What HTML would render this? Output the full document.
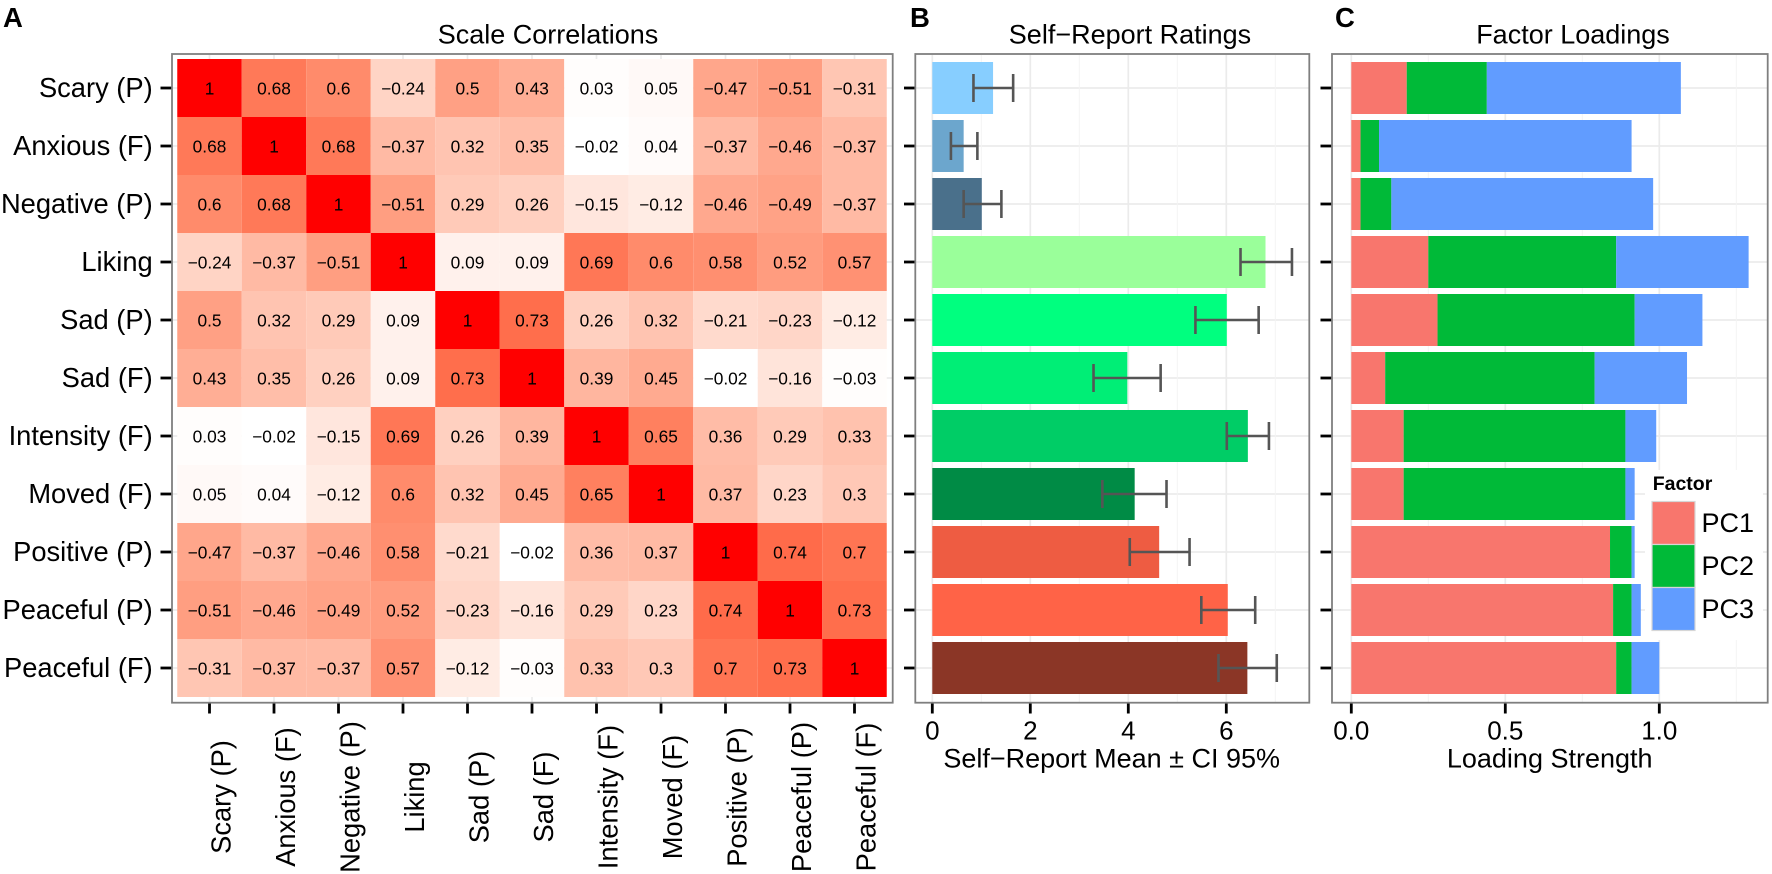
<!DOCTYPE html>
<html lang="en">
<head>
<meta charset="utf-8">
<title>Scale Correlations, Self-Report Ratings and Factor Loadings</title>
<style>
html,body{margin:0;padding:0;background:#fff;width:1772px;height:874px;overflow:hidden}
svg{display:block}
text{font-family:"Liberation Sans",Arial,sans-serif;fill:#000}
</style>
</head>
<body>
<svg id="fig" xmlns="http://www.w3.org/2000/svg" width="1772" height="874" viewBox="0 0 1772 874"></svg>
<script>
const scaleLabels = ["Scary (P)","Anxious (F)","Negative (P)","Liking","Sad (P)","Sad (F)","Intensity (F)","Moved (F)","Positive (P)","Peaceful (P)","Peaceful (F)"];
const corrScary = [1,0.68,0.6,-0.24,0.5,0.43,0.03,0.05,-0.47,-0.51,-0.31];
const corrAnxious = [0.68,1,0.68,-0.37,0.32,0.35,-0.02,0.04,-0.37,-0.46,-0.37];
const corrNegative = [0.6,0.68,1,-0.51,0.29,0.26,-0.15,-0.12,-0.46,-0.49,-0.37];
const corrLiking = [-0.24,-0.37,-0.51,1,0.09,0.09,0.69,0.6,0.58,0.52,0.57];
const corrSadP = [0.5,0.32,0.29,0.09,1,0.73,0.26,0.32,-0.21,-0.23,-0.12];
const corrSadF = [0.43,0.35,0.26,0.09,0.73,1,0.39,0.45,-0.02,-0.16,-0.03];
const corrIntensity = [0.03,-0.02,-0.15,0.69,0.26,0.39,1,0.65,0.36,0.29,0.33];
const corrMoved = [0.05,0.04,-0.12,0.6,0.32,0.45,0.65,1,0.37,0.23,0.3];
const corrPositive = [-0.47,-0.37,-0.46,0.58,-0.21,-0.02,0.36,0.37,1,0.74,0.7];
const corrPeacefulP = [-0.51,-0.46,-0.49,0.52,-0.23,-0.16,0.29,0.23,0.74,1,0.73];
const corrPeacefulF = [-0.31,-0.37,-0.37,0.57,-0.12,-0.03,0.33,0.3,0.7,0.73,1];
const corrMatrix = [corrScary,corrAnxious,corrNegative,corrLiking,corrSadP,corrSadF,corrIntensity,corrMoved,corrPositive,corrPeacefulP,corrPeacefulF];

const ratingMeans = [1.24,0.64,1.01,6.80,6.01,3.98,6.44,4.13,4.63,6.03,6.43];
const ratingLow = [0.84,0.38,0.64,6.29,5.37,3.29,6.01,3.47,4.03,5.49,5.84];
const ratingHigh = [1.65,0.92,1.41,7.34,6.66,4.66,6.87,4.78,5.25,6.59,7.03];
const ratingColors = ["#87CEFF","#6CA6CD","#4A708B","#9AFF9A","#00FF7F","#00EE76","#00CD66","#008B45","#EE5C42","#FF6347","#8B3626"];
const ratingTicks = [0,2,4,6];
const ratingMinorTicks = [1,3,5,7];

const loadingPC1 = [0.18,0.03,0.03,0.25,0.28,0.11,0.17,0.17,0.84,0.85,0.86];
const loadingPC2 = [0.26,0.06,0.10,0.61,0.64,0.68,0.72,0.72,0.07,0.06,0.05];
const loadingPC3 = [0.63,0.82,0.85,0.43,0.22,0.30,0.10,0.03,0.01,0.03,0.09];
const factorNames = ["PC1","PC2","PC3"];
const factorColors = ["#F8766D","#00BA38","#619CFF"];
const loadingTicks = [0,0.5,1];
const loadingTickLabels = ["0.0","0.5","1.0"];
const loadingMinorTicks = [0.25,0.75,1.25];

const svg = document.getElementById('fig');
const NS = 'http://www.w3.org/2000/svg';
function make(tag, attrs, txt) {
  const el = document.createElementNS(NS, tag);
  for (const k in attrs) el.setAttribute(k, attrs[k]);
  if (txt !== undefined) el.textContent = txt;
  svg.appendChild(el);
  return el;
}
function line(x1, y1, x2, y2, stroke, w) {
  const el = make('line', {x1, y1, x2, y2, stroke, 'stroke-width': w});
  
  return el;
}
function label(x, y, str, size, anchor, weight) {
  const el = make('text', {x, y, 'font-size': size, 'text-anchor': anchor || 'middle', 'font-weight': weight || 'normal'}, str);
  
  return el;
}

/* shared axis functions */
const rowY = i => 88 + 58 * i;
const colX = j => 209.5 + 64.5 * j;
const ratingX = v => 932.3 + 49 * v;
const loadingX = v => 1351.3 + 308 * v;

/* heat colour: white to red through Lab space, limits taken from the data range */
function heatColor(r) {
  const t = Math.max(0, (Math.abs(r) - 0.02) / 0.98);
  const L = 100 + (53.24 - 100) * t, a = 80.09 * t, b = 67.2 * t;
  const fy = (L + 16) / 116, fx = fy + a / 500, fz = fy - b / 200;
  const inv = f => (f > 0.2069 ? f * f * f : (f - 16 / 116) / 7.787);
  const X = 0.95047 * inv(fx), Y = inv(fy), Z = 1.08883 * inv(fz);
  const gam = c => {
    c = Math.max(0, Math.min(1, c));
    return Math.round(255 * (c <= 0.0031308 ? 12.92 * c : 1.055 * Math.pow(c, 1 / 2.4) - 0.055));
  };
  return 'rgb(' + gam(3.2406 * X - 1.5372 * Y - 0.4986 * Z) + ',' + gam(-0.9689 * X + 1.8758 * Y + 0.0415 * Z) + ',' + gam(0.0557 * X - 0.204 * Y + 1.057 * Z) + ')';
}

function panelBorder(x, y, w, h) {
  const el = make('rect', {x, y, width: w, height: h, fill: 'none', stroke: '#7f7f7f', 'stroke-width': 1.8});
  
  
}
function rowTicks(x, left, right) {
  scaleLabels.forEach((s, i) => {
    const g = line(left, rowY(i), right, rowY(i), '#ebebeb', 1.7);
    
    const t = line(x, rowY(i), x + 11.5, rowY(i), '#000', 2.8);
    
  });
}
function verticalGrid(scale, majors, minors) {
  minors.forEach(v => {
    const g = line(scale(v), 55, scale(v), 702, '#f4f4f4', 1);
    
  });
  majors.forEach(v => {
    const g = line(scale(v), 55, scale(v), 702, '#ebebeb', 1.7);
    
  });
}

/* Panel letters and titles */
const letters = [["A",3],["B",910],["C",1335]];
letters.forEach(p => {
  const el = label(p[1], 27, p[0], 27.5, 'start', 'bold');
  
});
const titleA = label(548, 43.5, 'Scale Correlations', 27);

const titleB = label(1130, 43.5, 'Self\u2212Report Ratings', 27);

const titleC = label(1573, 43.5, 'Factor Loadings', 27);


/* Panel A: heatmap */
rowTicks(160.5, 173, 892);
scaleLabels.forEach((s, j) => {
  const g = line(colX(j), 55, colX(j), 702, '#ebebeb', 1.7);
  
});
corrMatrix.forEach((row, i) => {
  row.forEach((v, j) => {
    const c = make('rect', {x: colX(j) - 32.25, y: rowY(i) - 29, width: 64.5, height: 58, fill: heatColor(v)});
    
    
  });
});
corrMatrix.forEach((row, i) => {
  row.forEach((v, j) => {
    const t = label(colX(j), rowY(i) + 6.4, String(v).replace('-', '\u2212'), 17.3);
    
  });
});
scaleLabels.forEach((s, i) => {
  const t = label(152.7, rowY(i) + 9.2, s, 27.3, 'end');
  
  const tk = line(colX(i), 703, colX(i), 713.5, '#000', 2.8);
  
  const bx = colX(i) + 21, by = 797;
  const xl = label(bx, by, s, 27.3);
  xl.setAttribute('transform', 'rotate(-90 ' + bx + ' ' + by + ')');
  
});
panelBorder(172, 54, 720.7, 648.7);

/* Panel B: self-report bars */
rowTicks(904, 916, 1309);
verticalGrid(ratingX, ratingTicks, ratingMinorTicks);
ratingMeans.forEach((v, i) => {
  const b = make('rect', {x: ratingX(0), y: rowY(i) - 26, width: ratingX(v) - ratingX(0), height: 52, fill: ratingColors[i]});
  
  
});
ratingMeans.forEach((v, i) => {
  const lo = ratingX(ratingLow[i]), hi = ratingX(ratingHigh[i]), y = rowY(i);
  const h = line(lo, y, hi, y, '#555', 2.6);
  
  const c1 = line(lo, y - 14, lo, y + 14, '#555', 2.6);
  
  const c2 = line(hi, y - 14, hi, y + 14, '#555', 2.6);
  
});
ratingTicks.forEach(v => {
  const tk = line(ratingX(v), 703, ratingX(v), 713.5, '#000', 2.8);
  
  const t = label(ratingX(v), 739.5, String(v), 26);
  
});
const xTitleB = label(1111.7, 767.5, 'Self\u2212Report Mean \u00B1 CI 95%', 27);

panelBorder(915.3, 54, 394, 648.7);

/* Panel C: stacked loading bars */
rowTicks(1320.5, 1333, 1767);
verticalGrid(loadingX, loadingTicks, loadingMinorTicks);
const legendBg = make('rect', {x: 1645, y: 470, width: 118, height: 170, fill: '#fff'});


loadingPC1.forEach((v, i) => {
  const s1 = loadingPC1[i], s2 = s1 + loadingPC2[i], s3 = s2 + loadingPC3[i];
  const a = make('rect', {x: loadingX(0), y: rowY(i) - 26, width: loadingX(s1) - loadingX(0), height: 52, fill: factorColors[0]});
  
  
  const b = make('rect', {x: loadingX(s1), y: rowY(i) - 26, width: loadingX(s2) - loadingX(s1), height: 52, fill: factorColors[1]});
  
  
  const c = make('rect', {x: loadingX(s2), y: rowY(i) - 26, width: loadingX(s3) - loadingX(s2), height: 52, fill: factorColors[2]});
  
  
});
loadingTicks.forEach((v, i) => {
  const tk = line(loadingX(v), 703, loadingX(v), 713.5, '#000', 2.8);
  
  const t = label(loadingX(v), 739.5, loadingTickLabels[i], 26);
  
});
const xTitleC = label(1549.7, 767.5, 'Loading Strength', 27);

panelBorder(1332, 54, 435.7, 648.7);

/* Legend */
const legendTitle = label(1652.7, 490, 'Factor', 19.5, 'start', 'bold');

factorNames.forEach((name, i) => {
  const y = 501.5 + 43 * i;
  const k = make('rect', {x: 1652, y, width: 43, height: 43, fill: factorColors[i], stroke: '#d6d6d6', 'stroke-width': 1.2});
  
  
  const t = label(1701.5, y + 30.5, name, 27, 'start');
  
});
</script>
</body>
</html>
